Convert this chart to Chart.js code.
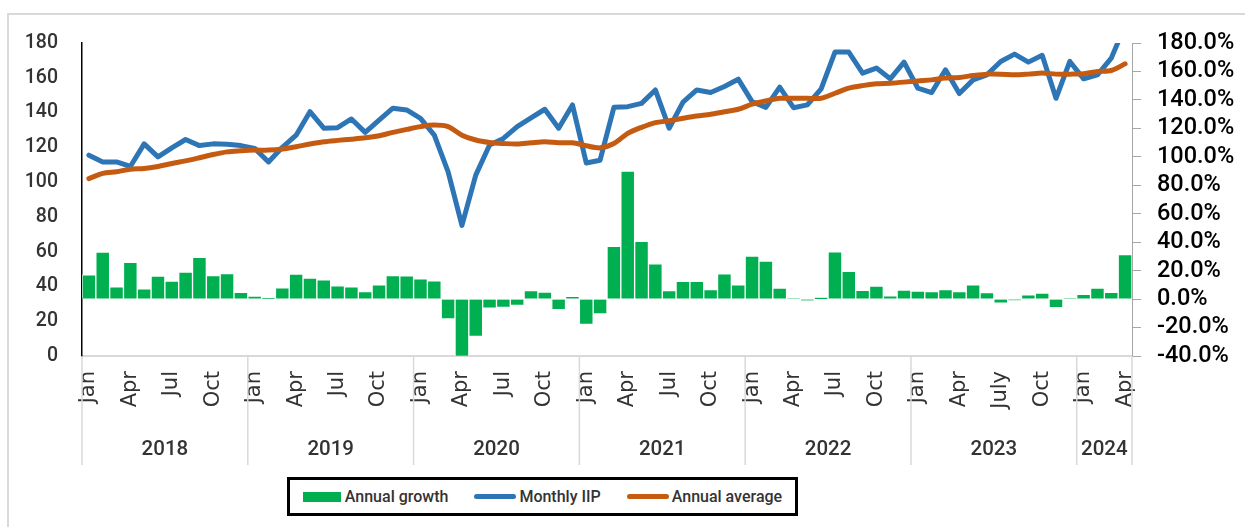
<!DOCTYPE html>
<html>
<head>
<meta charset="utf-8">
<script src="https://cdn.jsdelivr.net/npm/chart.js@4.4.1/dist/chart.umd.min.js"></script>
<style>
  body { margin: 0; background: #fff; }
  #wrap { position: relative; width: 1245px; height: 527px; overflow: hidden; }
  #frame { position: absolute; left: 7px; top: 13px; width: 2000px; height: 2000px;
    border-top: 2px solid #d9d9d9; border-left: 2px solid #d9d9d9; }
  #chart { position: absolute; left: 0; top: 0; }
  #legend { position: absolute; left: 287px; top: 477px; width: 511px; height: 39px;
    box-sizing: border-box; border: 3px solid #000; display: flex; align-items: center;
    justify-content: center; gap: 26px; background: #fff; white-space: nowrap;
    font-family: Roboto, sans-serif; font-size: 16px; font-weight: 500; color: #333; }
  .item { display: flex; align-items: center; gap: 3px; }
  .swatch { display: inline-block; }
</style>
</head>
<body>
<div id="wrap">
  <div id="frame"></div>
  <canvas id="chart" width="1245" height="527"></canvas>
  <div id="legend"></div>
</div>
<script>
const years = ['2018', '2019', '2020', '2021', '2022', '2023', '2024'];
const monthsInYear = [12, 12, 12, 12, 12, 12, 4];
const monthNames = ['Jan', 'Feb', 'Mar', 'Apr', 'May', 'Jun', 'Jul', 'Aug', 'Sep', 'Oct', 'Nov', 'Dec'];
// months that get a tick label, per year (2023 says "July")
const shownMonths = {
  '2018': ['Jan', 'Apr', 'Jul', 'Oct'],
  '2019': ['Jan', 'Apr', 'Jul', 'Oct'],
  '2020': ['Jan', 'Apr', 'Jul', 'Oct'],
  '2021': ['Jan', 'Apr', 'Jul', 'Oct'],
  '2022': ['Jan', 'Apr', 'Jul', 'Oct'],
  '2023': ['Jan', 'Apr', 'July', 'Oct'],
  '2024': ['Jan', 'Apr']
};

const annualGrowth = [
  17.1, 33, 8.7, 25.8, 7.3, 16.2, 12.7, 19, 29.3, 16.6, 18, 4.7,
  2.1, 0.5, 8, 17.6, 14.8, 13.6, 9.4, 8.7, 5.2, 10, 16.6, 16.4,
  14.3, 12.9, -14, -40.3, -26.3, -6.3, -5.9, -4.5, 5.9, 4.9, -7.5, 1.9,
  -17.8, -10.5, 37, 90, 40.6, 24.8, 5.9, 12.4, 12.4, 6.6, 17.8, 10.1,
  30.2, 26.7, 7.7, 0.2, -1, 1, 33.3, 19.5, 6.1, 9.1, 2.3, 6.3,
  5.6, 5.2, 6.6, 5.2, 10.1, 4.5, -2.8, -0.9, 3, 4.2, -6.1, 0.3,
  3.3, 7.7, 4.7, 31.2
];
const monthlyIIP = [
  115.5, 111.6, 111.6, 109, 122, 114.5, 119.7, 124.5, 121, 122, 121.8, 121,
  119.4, 111.6, 120, 127, 140.5, 131, 131.3, 136.3, 128.6, 135.7, 142.5, 141.5,
  136.7, 127, 105.9, 75.1, 104, 121.3, 125.1, 131.9, 137, 141.9, 131, 144.4,
  111, 112.6, 143, 143.4, 145.3, 153, 131, 146, 153, 151.5, 155, 159.2,
  146.3, 143, 154.6, 142.8, 144.4, 153.6, 174.8, 174.8, 162.7, 165.6, 159.4, 169,
  154, 151.5, 164.6, 150.9, 158.8, 161.7, 169.4, 173.6, 169, 172.9, 148.2, 169.4,
  159.4, 161.7, 171.3, 190
];
const annualAverage = [
  102, 105, 106, 107.4, 107.8, 109, 110.7, 112.2, 114, 115.9, 117.4, 118,
  118.4, 118.4, 119, 120.3, 121.9, 123.2, 124, 124.7, 125.5, 126.7, 128.6, 130.3,
  131.9, 132.8, 131.9, 127, 124.2, 122.8, 122.2, 121.9, 122.6, 123.2, 122.6, 122.6,
  120.9, 119.7, 122.2, 128, 131.5, 134.2, 135.3, 136.7, 138, 139, 140.5, 141.9,
  144.8, 146.7, 148.2, 148.2, 148.2, 148.2, 151.1, 154, 155.5, 156.5, 156.9, 157.5,
  158.2, 158.8, 159.8, 160.2, 161.3, 162.1, 162.1, 161.7, 162.1, 162.7, 162.1, 162.1,
  162.3, 163.6, 164.2, 168
];

const narrow = 'Roboto, sans-serif';

const categories = [];
const tickText = [];
years.forEach((y, yi) => {
  for (let m = 0; m < monthsInYear[yi]; m++) {
    categories.push(monthNames[m] + ' ' + y);
    const q = shownMonths[y].find(s => s.slice(0, 3) === monthNames[m]);
    tickText.push(q || '');
  }
});

// year groups + separators under the month labels
const yearGroups = {
  id: 'yearGroups',
  afterDraw(chart) {
    const ctx = chart.ctx;
    const x = chart.scales.x;
    const top = chart.chartArea.bottom;
    const edge = (i) => {
      if (i <= 0) return x.left;
      if (i >= categories.length) return x.right;
      return (x.getPixelForValue(i - 1) + x.getPixelForValue(i)) / 2;
    };
    ctx.save();
    ctx.strokeStyle = '#d9d9d9';
    ctx.lineWidth = 1.5;
    let start = 0;
    years.forEach((y, yi) => {
      const end = start + monthsInYear[yi];
      const x0 = edge(start);
      const x1 = edge(end);
      ctx.beginPath();
      ctx.moveTo(x0, top);
      ctx.lineTo(x0, top + 109);
      ctx.stroke();
      if (yi === years.length - 1) {
        ctx.beginPath();
        ctx.moveTo(x1, top);
        ctx.lineTo(x1, top + 109);
        ctx.stroke();
      }
      ctx.fillStyle = '#333';
      ctx.font = '500 20.5px ' + narrow;
      ctx.textAlign = 'center';
      ctx.textBaseline = 'middle';
      ctx.fillText(y, (x0 + x1) / 2, top + 94);
      start = end;
    });
    ctx.restore();
  }
};

document.addEventListener('DOMContentLoaded', () => {
  const ctx = document.getElementById('chart').getContext('2d');
  const chart = new Chart(ctx, {
    data: {
      labels: categories,
      datasets: [
        {
          type: 'bar',
          label: 'Annual growth',
          data: annualGrowth,
          yAxisID: 'y1',
          backgroundColor: '#00b050',
          borderColor: 'rgba(255,255,255,0.85)',
          borderWidth: 1,
          barPercentage: 1,
          categoryPercentage: 1,
          order: 3
        },
        {
          type: 'line',
          label: 'Monthly IIP',
          data: monthlyIIP,
          yAxisID: 'y',
          borderColor: '#2e75b6',
          backgroundColor: '#2e75b6',
          borderWidth: 5,
          borderJoinStyle: 'round',
          borderCapStyle: 'round',
          pointRadius: 0,
          tension: 0,
          order: 2
        },
        {
          type: 'line',
          label: 'Annual average',
          data: annualAverage,
          yAxisID: 'y',
          borderColor: '#c55a11',
          backgroundColor: '#c55a11',
          borderWidth: 5,
          borderJoinStyle: 'round',
          borderCapStyle: 'round',
          pointRadius: 0,
          tension: 0.3,
          order: 1
        }
      ]
    },
    options: {
      responsive: false,
      animation: false,
      layout: { padding: { top: 43, left: 0, right: 0, bottom: 0 } },
      plugins: {
        legend: { display: false },
        tooltip: { enabled: false }
      },
      scales: {
        x: {
          type: 'category',
          offset: true,
          grid: { display: false, drawTicks: false },
          border: { color: '#d9d9d9', width: 2 },
          ticks: {
            autoSkip: false,
            minRotation: 90,
            maxRotation: 90,
            padding: 15,
            color: '#333',
            font: { family: "'DejaVu Sans', sans-serif", size: 21 },
            callback: (v, i) => tickText[i]
          },
          afterFit: (s) => { s.height = 171; }
        },
        y: {
          position: 'left',
          min: 0,
          max: 180,
          grid: { display: false, drawTicks: false },
          border: { color: '#000', width: 1.5 },
          ticks: {
            stepSize: 20,
            autoSkip: false,
            padding: 24,
            color: '#333',
            font: { family: narrow, size: 19.5, weight: '500', lineHeight: 1 }
          },
          afterFit: (s) => { s.width = 82; }
        },
        y1: {
          position: 'right',
          min: -40,
          max: 180,
          grid: { display: true, drawOnChartArea: false, drawTicks: true, tickLength: 9, color: '#a6a6a6', lineWidth: 1 },
          border: { color: '#a6a6a6', width: 1 },
          ticks: {
            stepSize: 20,
            autoSkip: false,
            padding: 16,
            color: '#000',
            font: { family: narrow, size: 23.5, weight: '500', lineHeight: 1 },
            callback: (v) => v.toFixed(1) + '%'
          },
          afterFit: (s) => { s.width = 113; }
        }
      }
    },
    plugins: [yearGroups]
  });

  // legend from the chart's own datasets
  const legend = document.getElementById('legend');
  chart.data.datasets.forEach(ds => {
    const item = document.createElement('div');
    item.className = 'item';
    const sw = document.createElement('span');
    sw.className = 'swatch';
    if (ds.type === 'bar') {
      sw.style.cssText = 'width:38px;height:10px;background:' + ds.backgroundColor + ';margin-right:1px;';
    } else {
      sw.style.cssText = 'width:42px;height:5px;border-radius:3px;background:' + ds.borderColor + ';';
    }
    const txt = document.createElement('span');
    txt.textContent = ds.label;
    item.appendChild(sw);
    item.appendChild(txt);
    legend.appendChild(item);
  });
});
</script>
</body>
</html>
